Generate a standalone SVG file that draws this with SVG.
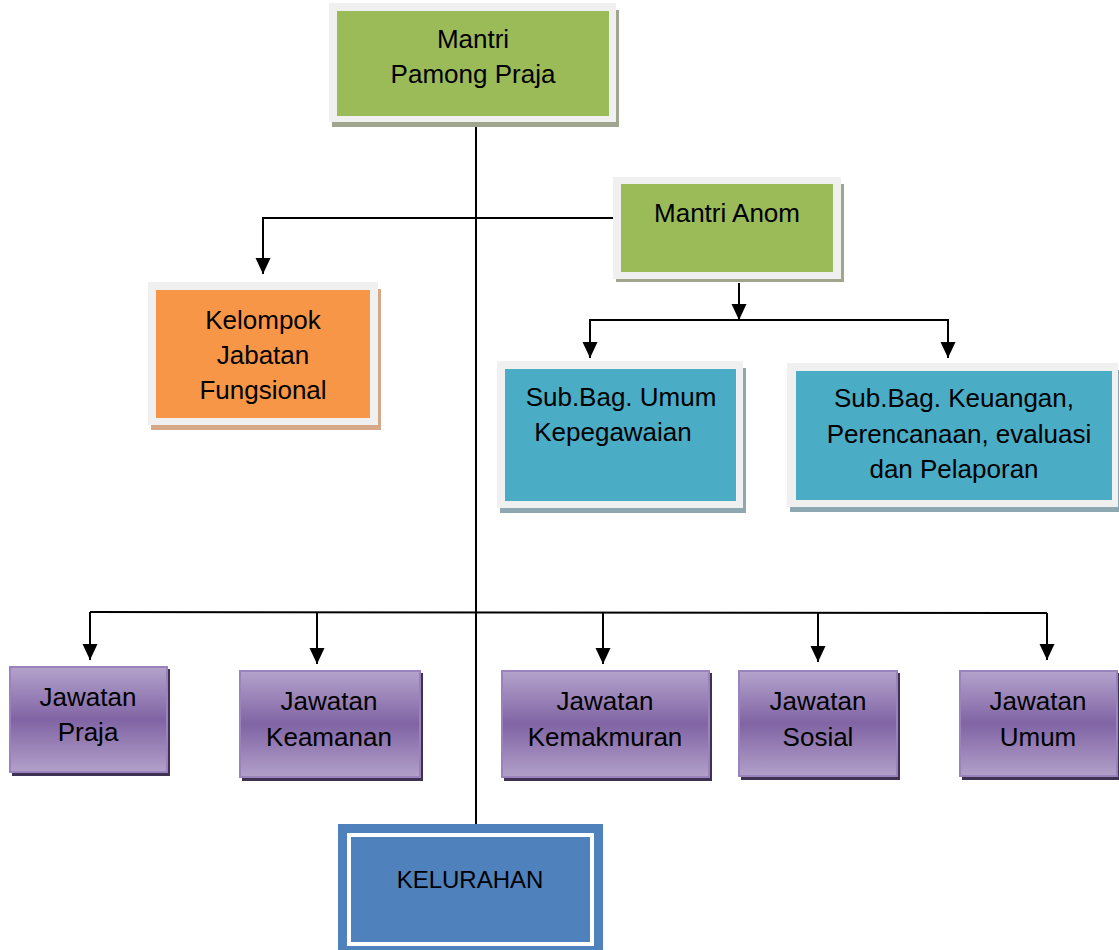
<svg xmlns="http://www.w3.org/2000/svg" width="1119" height="950" viewBox="0 0 1119 950">
<style>
.t{font-family:"Liberation Sans",Arial,sans-serif;font-size:26px;fill:#000;text-anchor:middle}
.frame{fill:#f0f0f0}
.grn{fill:#9bbb59}
.grnS{fill:#a0a58e}
.org{fill:#f79646}
.orgS{fill:#d6a888}
.tea{fill:#4bacc6}
.teaS{fill:#8ea8b2}
.pur{fill:url(#pg);stroke:#9a82bc;stroke-width:2}
.purS{fill:#3f3151}
.ln{stroke:#000;stroke-width:2;fill:none}
.ar{stroke:#000;stroke-width:2;fill:none;marker-end:url(#ah)}
</style>
<defs>
<linearGradient id="pg" x1="0" y1="0" x2="0" y2="1">
<stop offset="0" stop-color="#b4a3cc"/>
<stop offset="0.5" stop-color="#8064a4"/>
<stop offset="1" stop-color="#b2a0c9"/>
</linearGradient>
<marker id="ah" viewBox="0 0 16 16" markerWidth="16" markerHeight="16" refX="16" refY="8" orient="auto" markerUnits="userSpaceOnUse">
<path d="M0,0.5 L16,8 L0,15.5 z" fill="#000"/>
</marker>
</defs>

<g id="connectors">
<line class="ln" x1="476" y1="125" x2="476" y2="824"/>
<polyline class="ar" points="613,218 263,218 263,274"/>
<line class="ar" x1="739" y1="283" x2="739" y2="320"/>
<polyline class="ar" points="590,358 590,320 948,320 948,358"/>
<line class="ar" x1="590" y1="320" x2="590" y2="358"/>
<polyline class="ln" points="90,612 1047,613"/>
<line class="ar" x1="90" y1="612" x2="90" y2="660"/>
<line class="ar" x1="317" y1="612" x2="317" y2="664"/>
<line class="ar" x1="603" y1="612" x2="603" y2="664"/>
<line class="ar" x1="818" y1="613" x2="818" y2="662"/>
<line class="ar" x1="1047" y1="613" x2="1047" y2="660"/>
</g>

<g id="mantri-pamong-praja">
<rect class="grnS" x="332" y="10" width="287" height="117"/>
<rect class="frame" x="329" y="3" width="287" height="119"/>
<rect class="grn" x="337" y="11" width="272" height="105"/>
<text class="t" x="473" y="48">Mantri</text>
<text class="t" x="473" y="83">Pamong Praja</text>
</g>

<g id="mantri-anom">
<rect class="grnS" x="616" y="184" width="228" height="98"/>
<rect class="frame" x="613" y="177" width="228" height="102"/>
<rect class="grn" x="621" y="184" width="212" height="88"/>
<text class="t" x="727" y="222">Mantri Anom</text>
</g>

<g id="kelompok">
<rect class="orgS" x="151" y="289" width="230" height="141"/>
<rect class="frame" x="148" y="282" width="230" height="143"/>
<rect class="org" x="156" y="290" width="214" height="128"/>
<text class="t" x="263" y="329">Kelompok</text>
<text class="t" x="263" y="364">Jabatan</text>
<text class="t" x="263" y="399">Fungsional</text>
</g>

<g id="subbag-umum">
<rect class="teaS" x="500" y="368" width="246" height="145"/>
<rect class="frame" x="497" y="361" width="246" height="147"/>
<rect class="tea" x="505" y="369" width="231" height="132"/>
<text class="t" x="621" y="406">Sub.Bag. Umum</text>
<text class="t" x="613" y="441">Kepegawaian</text>
</g>

<g id="subbag-keuangan">
<rect class="teaS" x="790" y="370" width="329" height="142"/>
<rect class="frame" x="787" y="363" width="331" height="144"/>
<rect class="tea" x="796" y="371" width="316" height="129"/>
<text class="t" x="954" y="407">Sub.Bag. Keuangan,</text>
<text class="t" x="959" y="443">Perencanaan, evaluasi</text>
<text class="t" x="954" y="478">dan Pelaporan</text>
</g>

<g id="jawatan-praja">
<rect class="purS" x="12" y="669" width="158" height="107"/>
<rect class="pur" x="10" y="667" width="157" height="105"/>
<text class="t" x="88" y="706">Jawatan</text>
<text class="t" x="88" y="741">Praja</text>
</g>

<g id="jawatan-keamanan">
<rect class="purS" x="242" y="673" width="181" height="108"/>
<rect class="pur" x="240" y="671" width="180" height="106"/>
<text class="t" x="329" y="710">Jawatan</text>
<text class="t" x="329" y="746">Keamanan</text>
</g>

<g id="jawatan-kemakmuran">
<rect class="purS" x="504" y="673" width="208" height="108"/>
<rect class="pur" x="502" y="671" width="207" height="106"/>
<text class="t" x="605" y="710">Jawatan</text>
<text class="t" x="605" y="746">Kemakmuran</text>
</g>

<g id="jawatan-sosial">
<rect class="purS" x="741" y="673" width="159" height="107"/>
<rect class="pur" x="739" y="671" width="158" height="105"/>
<text class="t" x="818" y="710">Jawatan</text>
<text class="t" x="818" y="746">Sosial</text>
</g>

<g id="jawatan-umum">
<rect class="purS" x="962" y="673" width="157" height="107"/>
<rect class="pur" x="960" y="671" width="157" height="105"/>
<text class="t" x="1038" y="710">Jawatan</text>
<text class="t" x="1038" y="746">Umum</text>
</g>

<g id="kelurahan">
<rect x="338" y="824" width="265" height="126" fill="#4f81bd"/>
<rect x="349" y="835" width="243" height="109" fill="none" stroke="#fff" stroke-width="4"/>
<text class="t" x="470" y="888" style="font-size:24px">KELURAHAN</text>
</g>
</svg>
